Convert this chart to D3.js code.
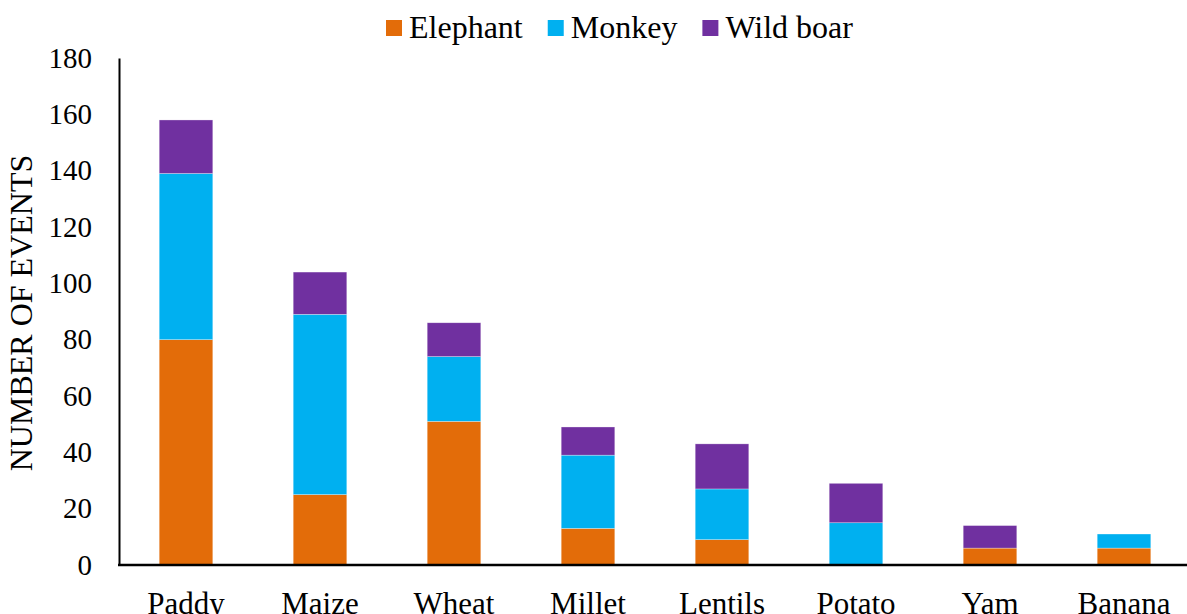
<!DOCTYPE html>
<html>
<head>
<meta charset="utf-8">
<script src="https://cdn.jsdelivr.net/npm/d3@7"></script>
<style>
  html, body { margin: 0; padding: 0; background: #fff; }
  svg { display: block; }
</style>
</head>
<body>
<svg id="chart" width="1187" height="614"></svg>
<script>
const categories = ["Paddy", "Maize", "Wheat", "Millet", "Lentils", "Potato", "Yam", "Banana"];
const seriesNames = ["Elephant", "Monkey", "Wild boar"];
const elephant = [80, 25, 51, 13, 9, 0, 6, 6];
const monkey   = [59, 64, 23, 26, 18, 15, 0, 5];
const wildBoar = [19, 15, 12, 10, 16, 14, 8, 0];
const yTicks = [0, 20, 40, 60, 80, 100, 120, 140, 160, 180];
const colors = ["#E36C09", "#00B0F0", "#7030A0"];

const FONT = '"Liberation Serif", "Times New Roman", "DejaVu Serif", serif';

const table = categories.map((c, i) => ({
  cat: c, "Elephant": elephant[i], "Monkey": monkey[i], "Wild boar": wildBoar[i]
}));

const svg = d3.select("#chart");
const mLeft = 119, mRight = 1191, mTop = 58, mBottom = 565;

const x = d3.scaleBand().domain(categories).range([mLeft, mRight]).paddingInner(0.6).paddingOuter(0.3);
const y = d3.scaleLinear().domain([0, 180]).range([mBottom, mTop]);

const stack = d3.stack().keys(seriesNames)(table);

svg.append("g").selectAll("g")
  .data(stack).join("g")
  .attr("fill", (d, i) => colors[i])
  .selectAll("rect")
  .data(d => d).join("rect")
  .attr("x", d => x(d.data.cat))
  .attr("width", x.bandwidth())
  .attr("y", d => y(d[1]))
  .attr("height", d => Math.max(0, y(d[0]) - y(d[1])))
  .attr("stroke", "#ffffff")
  .attr("stroke-opacity", 0.5)
  .attr("stroke-width", 0.6);

// Y axis
const yAxis = svg.append("g").attr("transform", `translate(${mLeft},0)`)
  .call(d3.axisLeft(y).tickValues(yTicks).tickSize(0).tickPadding(27));
yAxis.attr("font-family", null).attr("font-size", null);
yAxis.select(".domain").attr("stroke", "#000").attr("stroke-width", 2);
yAxis.selectAll("text").attr("font-family", FONT).attr("font-size", 29).attr("fill", "#000");

// X axis
const xAxis = svg.append("g").attr("transform", `translate(0,${mBottom})`)
  .call(d3.axisBottom(x).tickSize(0).tickPadding(27));
xAxis.attr("font-family", null).attr("font-size", null);
xAxis.select(".domain").attr("d", `M${mLeft - 1},0H1187`).attr("stroke", "#000").attr("stroke-width", 2.5);
xAxis.selectAll("text").attr("font-family", FONT).attr("font-size", 31).attr("fill", "#000");

// Y title
svg.append("text")
  .attr("transform", "translate(32,313) rotate(-90)")
  .attr("text-anchor", "middle")
  .attr("font-family", FONT)
  .attr("font-size", 32)
  .text("NUMBER OF EVENTS");

// Legend
const lg = svg.append("g");
let cx = 386;
seriesNames.forEach((name, i) => {
  lg.append("rect").attr("x", cx).attr("y", 20).attr("width", 16).attr("height", 16).attr("fill", colors[i]);
  const t = lg.append("text").attr("x", cx + 23).attr("y", 38)
    .attr("font-family", FONT).attr("font-size", 32).text(name);
  const w = t.node().getComputedTextLength();
  cx = cx + 23 + w + 25;
});
</script>
</body>
</html>
